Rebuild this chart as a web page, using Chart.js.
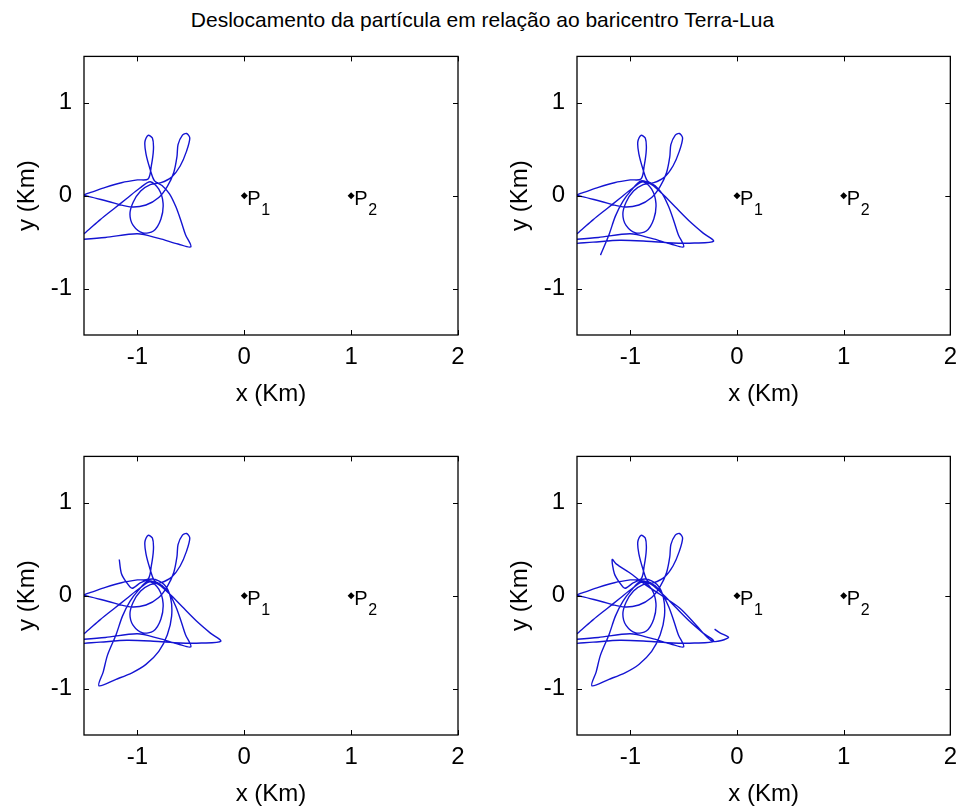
<!DOCTYPE html>
<html>
<head>
<meta charset="utf-8">
<script src="https://cdn.jsdelivr.net/npm/chart.js@4"></script>
<style>
  body { margin: 0; background: #fff; }
  #wrap { position: relative; width: 965px; height: 809px; overflow: hidden; }
  canvas { position: absolute; }
  #title {
    position: absolute; left: 0; top: 8px; width: 965px; text-align: center;
    font: 21px "Liberation Sans", Arial, sans-serif; color: #000;
  }
</style>
</head>
<body>
<div id="wrap">
  <div id="title">Deslocamento da partícula em relação ao baricentro Terra-Lua</div>
  <canvas id="p1" width="482" height="400" style="left:0;top:30px"></canvas>
  <canvas id="p2" width="472" height="400" style="left:493px;top:30px"></canvas>
  <canvas id="p3" width="482" height="379" style="left:0;top:430px"></canvas>
  <canvas id="p4" width="472" height="379" style="left:493px;top:430px"></canvas>
</div>
<script>
// axes
const xRange = [-1.5, 2];
const yRange = [-1.5, 1.5];
const xTicks = [-1, 0, 1, 2];
const yTicks = [-1, 0, 1];

// reference points P1, P2
const pointX = [0, 1];
const pointY = [0, 0];
const pointSub = ['1', '2'];

// particle path, split in the stretches added from one panel to the next
const trackA = [
  [-1.62, -0.48], [-1.30, -0.45], [-1.00, -0.41], [-0.80, -0.46], [-0.62, -0.52], [-0.50, -0.55],
  [-0.55, -0.42], [-0.59, -0.28], [-0.64, -0.12], [-0.70, 0.02], [-0.77, 0.11], [-0.84, 0.16],
  [-0.88, 0.28], [-0.92, 0.45], [-0.93, 0.58], [-0.90, 0.65], [-0.86, 0.62], [-0.85, 0.50],
  [-0.87, 0.32], [-0.90, 0.18], [-1.00, 0.17], [-1.15, 0.14], [-1.30, 0.09], [-1.45, 0.03],
  [-1.60, -0.02], [-1.62, 0.03], [-1.45, -0.01], [-1.28, -0.06], [-1.07, -0.12], [-0.92, -0.10],
  [-0.80, -0.02], [-0.72, 0.10], [-0.66, 0.25], [-0.63, 0.42], [-0.62, 0.55], [-0.58, 0.65],
  [-0.54, 0.67], [-0.51, 0.62], [-0.54, 0.48], [-0.60, 0.32], [-0.68, 0.20], [-0.78, 0.14],
  [-0.88, 0.12], [-0.97, 0.05], [-1.04, -0.07], [-1.07, -0.20], [-1.04, -0.32], [-0.95, -0.40],
  [-0.85, -0.38], [-0.78, -0.25], [-0.76, -0.08], [-0.80, 0.07], [-0.88, 0.15], [-0.98, 0.08],
  [-1.10, -0.03], [-1.22, -0.14], [-1.35, -0.26], [-1.48, -0.39], [-1.60, -0.50]
];
const trackB = [
  [-1.62, -0.52], [-1.35, -0.50], [-1.10, -0.48], [-0.85, -0.49], [-0.60, -0.51], [-0.40, -0.51],
  [-0.22, -0.49], [-0.32, -0.40], [-0.45, -0.27], [-0.58, -0.12], [-0.70, 0.02], [-0.80, 0.12],
  [-0.90, 0.16], [-0.99, 0.06], [-1.07, -0.06], [-1.14, -0.22], [-1.20, -0.42], [-1.28, -0.64]
];
const trackC = [
  [-1.32, -0.82], [-1.36, -0.97], [-1.20, -0.90], [-1.05, -0.83], [-0.92, -0.74], [-0.80, -0.60],
  [-0.72, -0.42], [-0.68, -0.22], [-0.69, -0.02], [-0.75, 0.12], [-0.86, 0.18], [-0.97, 0.14],
  [-1.05, 0.08], [-1.10, 0.14], [-1.15, 0.24], [-1.17, 0.39]
];
const trackD = [
  [-1.13, 0.34], [-1.01, 0.25], [-0.86, 0.12], [-0.69, -0.01], [-0.53, -0.14],
  [-0.38, -0.32], [-0.23, -0.49], [-0.08, -0.45], [-0.16, -0.40], [-0.21, -0.36]
];
const tracks = [trackA, trackB, trackC, trackD];

const font = '"Liberation Sans", Arial, sans-serif';
Chart.defaults.color = '#000';
Chart.defaults.font.family = font;

// box round the plot area, inward ticks and the P labels
const framePlugin = {
  id: 'frame',
  afterDraw(chart) {
    const { ctx, chartArea: a, scales: { x, y } } = chart;
    ctx.save();
    ctx.strokeStyle = '#000';
    ctx.lineWidth = 1.3;
    ctx.strokeRect(a.left, a.top, a.right - a.left, a.bottom - a.top);
    ctx.lineWidth = 1;
    ctx.beginPath();
    xTicks.forEach(v => {
      const px = Math.round(x.getPixelForValue(v)) + 0.5;
      ctx.moveTo(px, a.bottom); ctx.lineTo(px, a.bottom - 5);
      ctx.moveTo(px, a.top); ctx.lineTo(px, a.top + 5);
    });
    yTicks.forEach(v => {
      const py = Math.round(y.getPixelForValue(v)) + 0.5;
      ctx.moveTo(a.left, py); ctx.lineTo(a.left + 5, py);
      ctx.moveTo(a.right, py); ctx.lineTo(a.right - 5, py);
    });
    ctx.stroke();

    ctx.fillStyle = '#000';
    ctx.textBaseline = 'alphabetic';
    pointX.forEach((v, i) => {
      const px = x.getPixelForValue(v);
      const py = y.getPixelForValue(pointY[i]);
      ctx.font = '20px ' + font;
      ctx.fillText('P', px + 3, py + 9);
      ctx.font = '16px ' + font;
      ctx.fillText(pointSub[i], px + 17, py + 19);
    });
    ctx.restore();
  }
};

function makePanel(id, n, padRight, padBottom) {
  const path = [].concat(...tracks.slice(0, n)).map(([x, y]) => ({ x, y }));
  const refs = pointX.map((x, i) => ({ x, y: pointY[i] }));
  new Chart(document.getElementById(id), {
    type: 'scatter',
    data: {
      datasets: [{
        data: path,
        showLine: true,
        borderColor: '#1414d2',
        borderWidth: 1.4,
        pointRadius: 0,
        tension: 0.3
      }, {
        data: refs,
        pointStyle: 'rectRot',
        pointRadius: 3.5,
        backgroundColor: '#000',
        borderColor: '#000',
        borderWidth: 0
      }]
    },
    options: {
      responsive: false,
      animation: false,
      events: [],
      layout: { padding: { top: 23, right: padRight, bottom: padBottom, left: 0 } },
      plugins: { legend: { display: false }, tooltip: { enabled: false } },
      scales: {
        x: {
          type: 'linear',
          min: xRange[0],
          max: xRange[1],
          afterBuildTicks: s => { s.ticks = xTicks.map(v => ({ value: v })); },
          afterFit: s => { s.height = 74; },
          grid: { display: false, drawTicks: false },
          border: { display: false },
          ticks: { padding: 8, font: { size: 24 }, callback: v => String(v) },
          title: { display: true, text: 'x (Km)', font: { size: 24 }, padding: 0 }
        },
        y: {
          type: 'linear',
          min: yRange[0],
          max: yRange[1],
          afterBuildTicks: s => { s.ticks = yTicks.map(v => ({ value: v })); },
          afterFit: s => { s.width = 84; },
          grid: { display: false, drawTicks: false },
          border: { display: false },
          ticks: { padding: 12, font: { size: 24 }, callback: v => String(v) },
          title: { display: true, text: 'y (Km)', font: { size: 24 }, padding: { top: 13, bottom: 0 } }
        }
      }
    },
    plugins: [framePlugin]
  });
}

makePanel('p1', 1, 24, 21);
makePanel('p2', 2, 14, 21);
makePanel('p3', 3, 24, 0);
makePanel('p4', 4, 14, 0);
</script>
</body>
</html>
